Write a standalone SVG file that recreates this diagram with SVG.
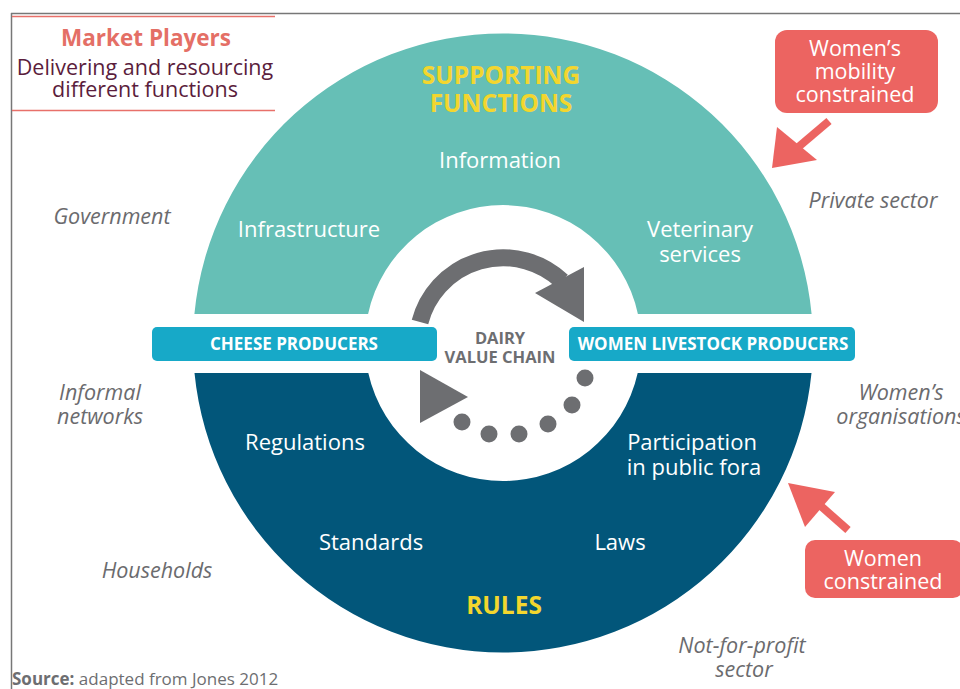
<svg xmlns="http://www.w3.org/2000/svg" width="960" height="689" viewBox="0 0 960 689">
<defs>
<style>
.t{font-family:"Open Sans","Noto Sans","Liberation Sans",sans-serif}
.w{fill:#ffffff;font-size:22px;text-anchor:middle}
.y{fill:#f3d62e;font-size:24.5px;font-weight:bold;text-anchor:middle}
.g{fill:#6b6b6e;font-size:21.5px;font-style:italic;text-anchor:middle}
.bar{fill:#17a9c8}
.bt{fill:#ffffff;font-size:17px;font-weight:bold;text-anchor:middle}
.red{fill:#ec6461}
.rt{fill:#ffffff;font-size:21.5px;text-anchor:middle}
.dot{fill:#6d6e71}
</style>
</defs>
<rect width="960" height="689" fill="#ffffff"/>
<g id="frame" stroke="#777" stroke-width="1.5" fill="none">
<path d="M11,13.5 H960 M11.5,13 V689"/>
</g>
<g id="title">
<path d="M12,16.5 H275 M12,110.5 H275" stroke="#e8706a" stroke-width="1.5"/>
<text class="t" x="146" y="46" fill="#e46f66" font-size="22.5" font-weight="bold" text-anchor="middle">Market Players</text>
<text class="t" x="145" y="75" fill="#5b1d3c" font-size="21.5" text-anchor="middle">Delivering and resourcing</text>
<text class="t" x="145" y="97" fill="#5b1d3c" font-size="21.5" text-anchor="middle">different functions</text>
</g>
<g id="supporting-functions">
<path d="M194.4,314 A310,310 0 0 1 811.6,314 L637.9,314 A138,138 0 0 0 368.1,314 Z" fill="#66bfb6"/>
<text class="t y" x="501" y="84">SUPPORTING</text>
<text class="t y" x="501" y="112">FUNCTIONS</text>
<text class="t w" x="500" y="168">Information</text>
<text class="t w" x="309" y="237">Infrastructure</text>
<text class="t w" x="700" y="237">Veterinary</text>
<text class="t w" x="700" y="262">services</text>
</g>
<g id="rules">
<path d="M194.5,373 A310,310 0 0 0 811.5,373 L637.7,373 A138,138 0 0 1 368.3,373 Z" fill="#02567a"/>
<text class="t w" x="305" y="450">Regulations</text>
<text class="t w" x="692" y="450">Participation</text>
<text class="t w" x="694" y="475">in public fora</text>
<text class="t w" x="371" y="550">Standards</text>
<text class="t w" x="620" y="550">Laws</text>
<text class="t y" x="504" y="614">RULES</text>
</g>
<g id="cheese-producers">
<rect class="bar" x="152" y="327" width="285" height="34" rx="5"/>
<text class="t bt" x="294" y="350">CHEESE PRODUCERS</text>
</g>
<g id="women-livestock-producers">
<rect class="bar" x="569" y="327" width="286" height="34" rx="5"/>
<text class="t bt" x="713" y="350">WOMEN LIVESTOCK PRODUCERS</text>
</g>
<g id="dairy-value-chain">
<text class="t" x="500" y="344" fill="#6d6e71" font-size="16.5" font-weight="bold" text-anchor="middle">DAIRY</text>
<text class="t" x="500" y="363" fill="#6d6e71" font-size="16.5" font-weight="bold" text-anchor="middle">VALUE CHAIN</text>
</g>
<g id="connectors">
<path d="M420,322 A86,86 0 0 1 562,281" fill="none" stroke="#6d6e71" stroke-width="17"/>
<polygon points="535,293 584,267 584,322" fill="#6d6e71"/>
<polygon points="420,370 468,397 420,423" fill="#6d6e71"/>
<circle class="dot" cx="462" cy="422" r="8.5"/>
<circle class="dot" cx="489" cy="434" r="8.5"/>
<circle class="dot" cx="519" cy="434" r="8.5"/>
<circle class="dot" cx="548" cy="424" r="8.5"/>
<circle class="dot" cx="572" cy="405" r="8.5"/>
<circle class="dot" cx="585" cy="378" r="8.5"/>
<path d="M829,121 L796,149" stroke="#ec6461" stroke-width="8"/>
<polygon points="772,168 777,127 817,160" fill="#ec6461"/>
<path d="M848,530 L814,500" stroke="#ec6461" stroke-width="8"/>
<polygon points="788,483 835,492 805,527" fill="#ec6461"/>
</g>
<g id="mobility-constrained">
<rect class="red" x="775" y="30" width="163" height="83" rx="12"/>
<text class="t rt" x="855" y="56">Women’s</text>
<text class="t rt" x="855" y="79">mobility</text>
<text class="t rt" x="855" y="102">constrained</text>
</g>
<g id="women-constrained">
<rect class="red" x="805" y="540" width="158" height="58" rx="10"/>
<text class="t rt" x="883" y="566">Women</text>
<text class="t rt" x="883" y="589">constrained</text>
</g>
<g id="actors">
<text class="t g" x="112" y="224">Government</text>
<text class="t g" x="873" y="208">Private sector</text>
<text class="t g" x="100" y="400">Informal</text>
<text class="t g" x="100" y="424">networks</text>
<text class="t g" x="901" y="400">Women’s</text>
<text class="t g" x="901" y="424">organisations</text>
<text class="t g" x="157" y="578">Households</text>
<text class="t g" x="742" y="653">Not-for-profit</text>
<text class="t g" x="744" y="677">sector</text>
</g>
<g id="source">
<text class="t" x="12" y="685" fill="#6d6e71" font-size="17"><tspan font-weight="bold">Source:</tspan> adapted from Jones 2012</text>
</g>
</svg>
